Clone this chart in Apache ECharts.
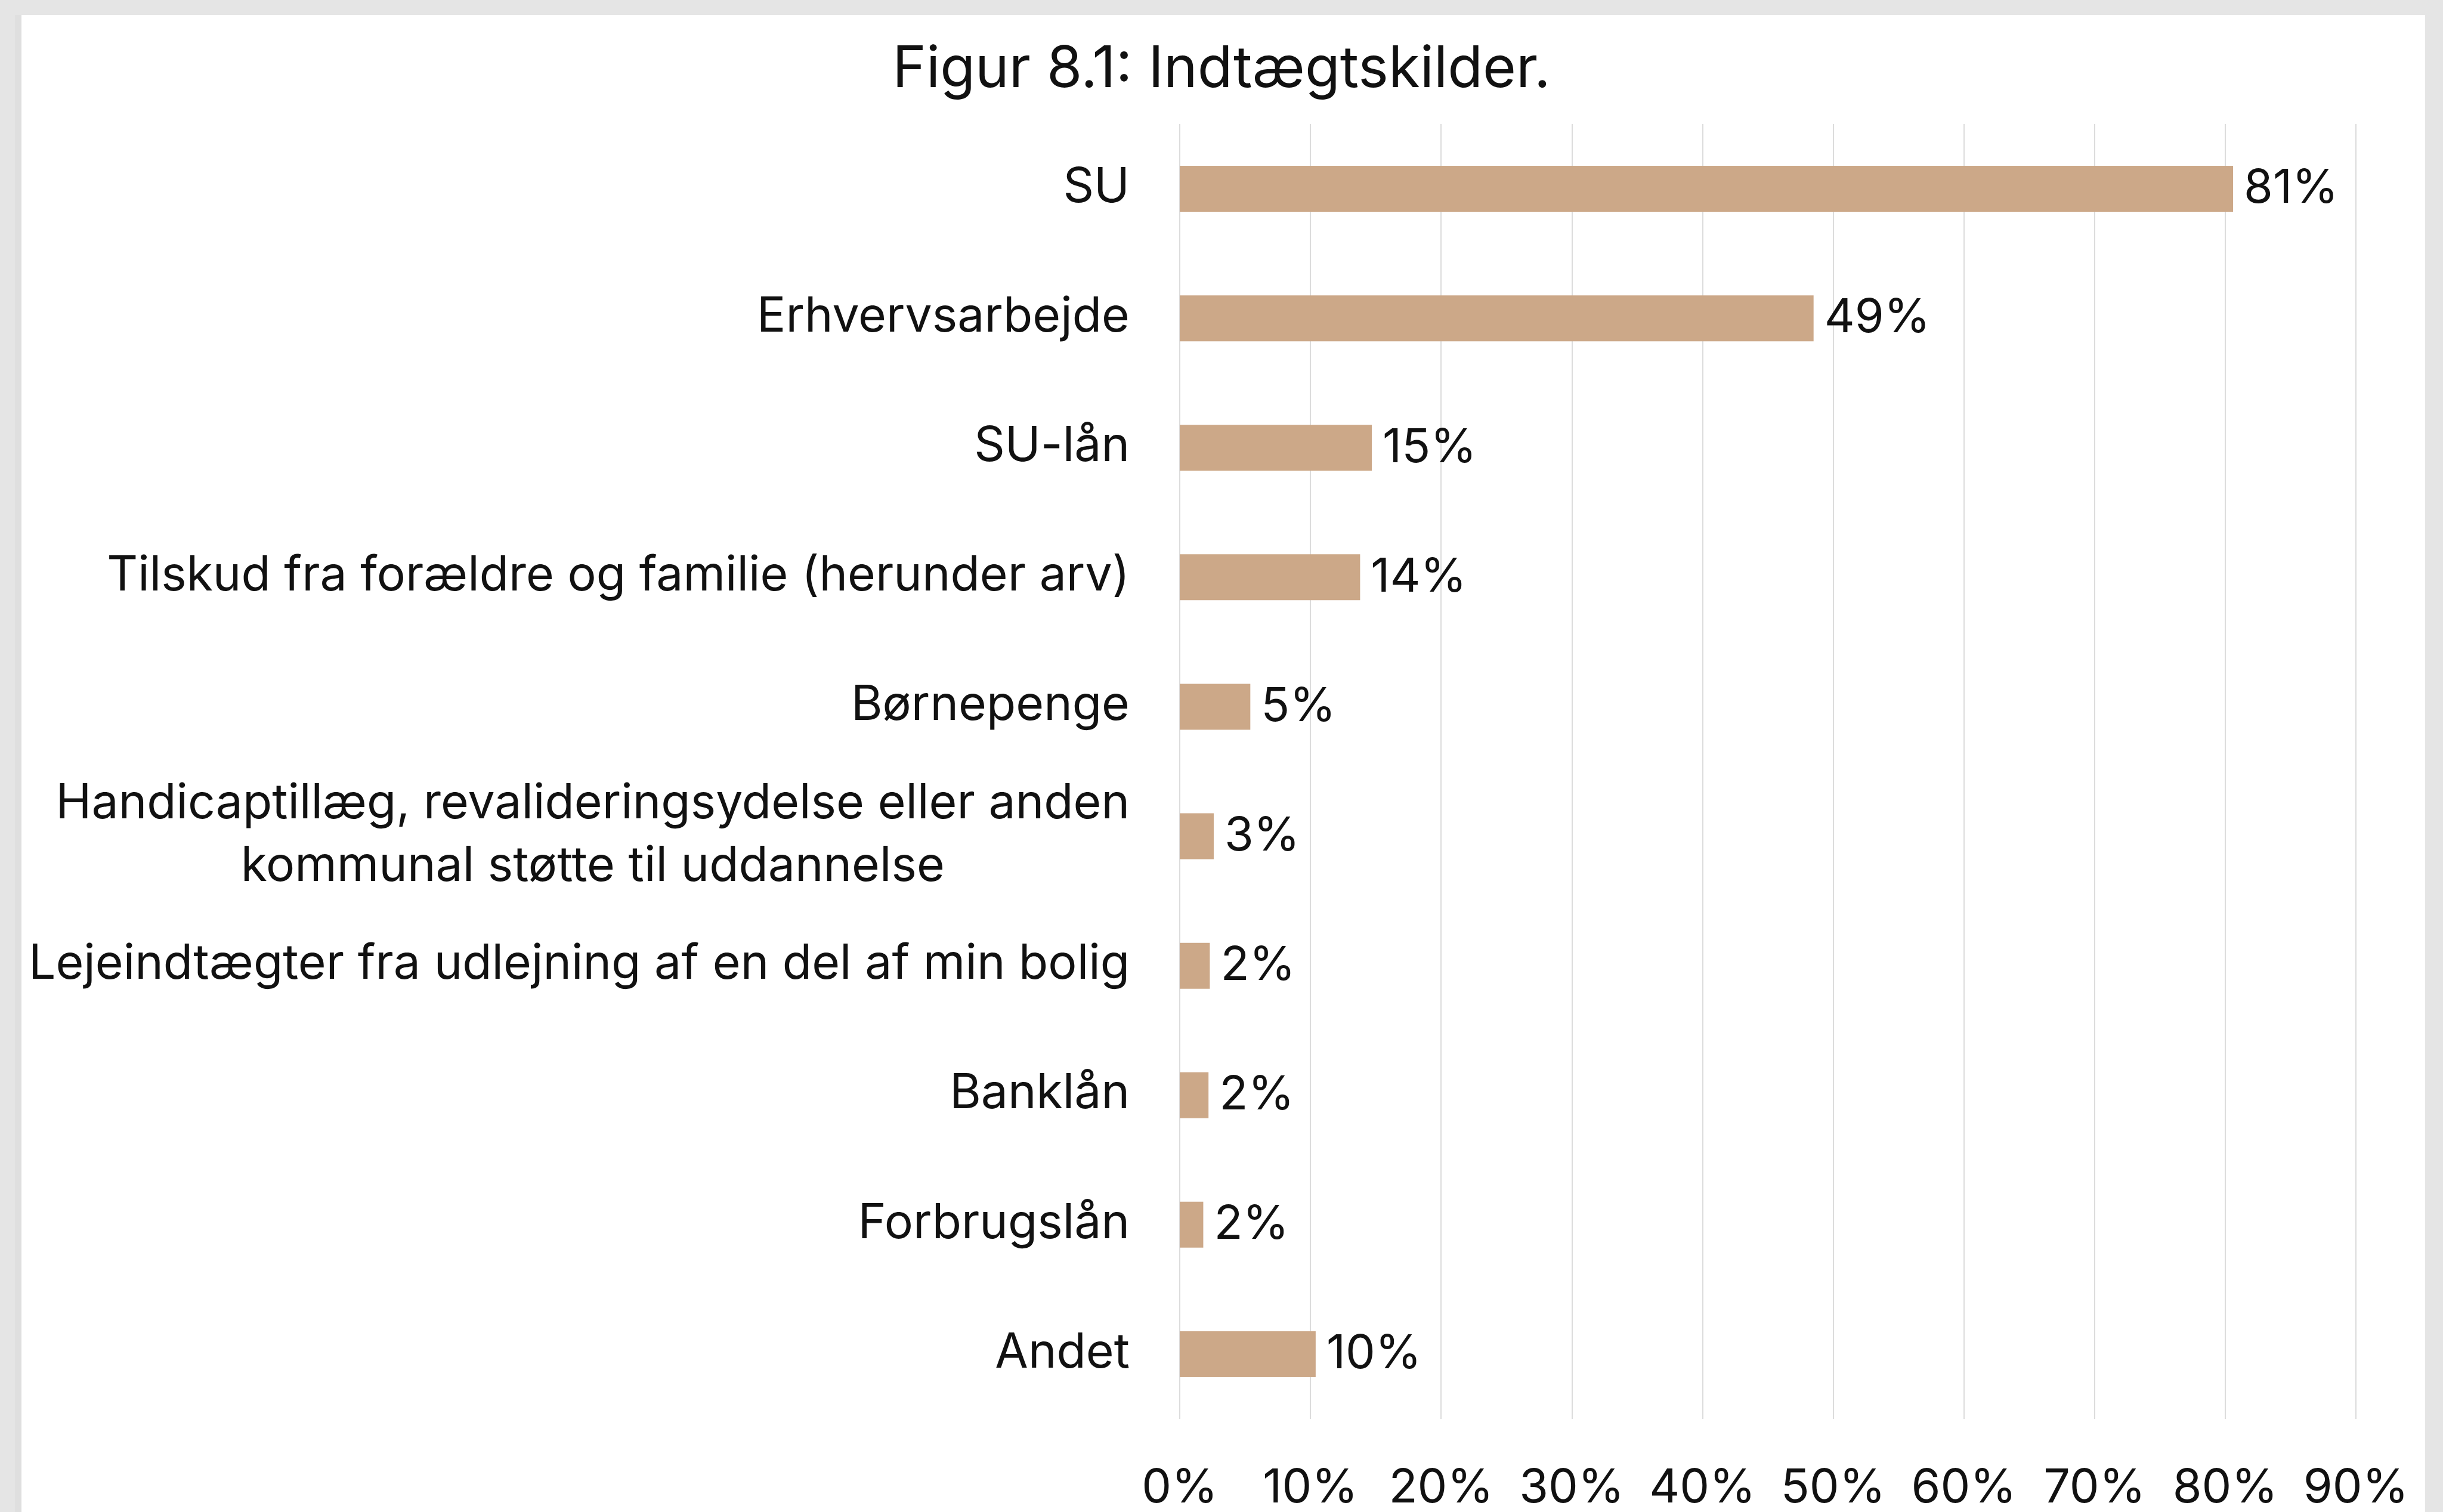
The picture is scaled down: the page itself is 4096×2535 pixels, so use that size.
<!DOCTYPE html>
<html>
<head>
<meta charset="utf-8">
<script src="https://cdn.jsdelivr.net/npm/echarts@6/dist/echarts.min.js"></script>
<style>
html,body{margin:0;padding:0;width:4096px;height:2535px;overflow:hidden;background:#e5e5e5;}
#strip{position:absolute;left:25px;top:25px;width:11px;height:2510px;background:#dfdfdf;}
#panel{position:absolute;left:36px;top:25px;width:4030px;height:2510px;background:#ffffff;}
#chart{position:absolute;left:0;top:0;width:4096px;height:2535px;}
</style>
</head>
<body>
<div id="strip"></div>
<div id="panel"></div>
<div id="chart"></div>
<script>
const titleText = 'Figur 8.1: Indtægtskilder.';
const categories = [
  'SU',
  'Erhvervsarbejde',
  'SU-lån',
  'Tilskud fra forældre og familie (herunder arv)',
  'Børnepenge',
  'Handicaptillæg, revalideringsydelse eller anden\nkommunal støtte til uddannelse',
  'Lejeindtægter fra udlejning af en del af min bolig',
  'Banklån',
  'Forbrugslån',
  'Andet'
];
const values = [80.6, 48.5, 14.7, 13.8, 5.4, 2.6, 2.3, 2.2, 1.8, 10.4];
const axisMin = 0, axisMax = 90, axisStep = 10;

const FONT = 'Inter';
const FS = 79;
const chart = echarts.init(document.getElementById('chart'), null, {renderer: 'canvas'});
chart.setOption({
  backgroundColor: 'transparent',
  animation: false,
  title: {
    text: titleText,
    left: 'center',
    top: 64,
    textStyle: {fontFamily: FONT, fontSize: 96, fontWeight: 'normal', color: '#111111', lineHeight: 96}
  },
  grid: {left: 1978, right: 146, top: 208, bottom: 151, containLabel: false},
  xAxis: {
    type: 'value',
    min: axisMin, max: axisMax, interval: axisStep,
    axisLine: {show: false},
    axisTick: {show: false},
    splitLine: {show: true, lineStyle: {color: '#dcdcdc', width: 2}},
    axisLabel: {
      formatter: '{value}%',
      margin: 77,
      fontFamily: FONT, fontSize: FS, lineHeight: FS, color: '#111111'
    }
  },
  yAxis: {
    type: 'category',
    data: categories,
    inverse: true,
    axisLine: {show: false},
    axisTick: {show: false},
    splitLine: {show: false},
    axisLabel: {
      margin: 84,
      formatter: function (v) {
        return v.split('\n').map(function (s) { return '{c|' + s + '}'; }).join('\n');
      },
      rich: {
        c: {fontFamily: FONT, fontSize: 80.5, lineHeight: 105, color: '#111111', align: 'center', padding: [0, 0, 4, 0]}
      }
    }
  },
  series: [{
    type: 'bar',
    data: values,
    barWidth: 77,
    itemStyle: {color: '#cca888'},
    label: {
      show: true,
      position: 'right',
      distance: 18,
      padding: [14, 0, 0, 0],
      formatter: function (p) { return Math.round(p.value) + '%'; },
      fontFamily: FONT, fontSize: FS, color: '#111111'
    }
  }]
});
</script>
</body>
</html>
